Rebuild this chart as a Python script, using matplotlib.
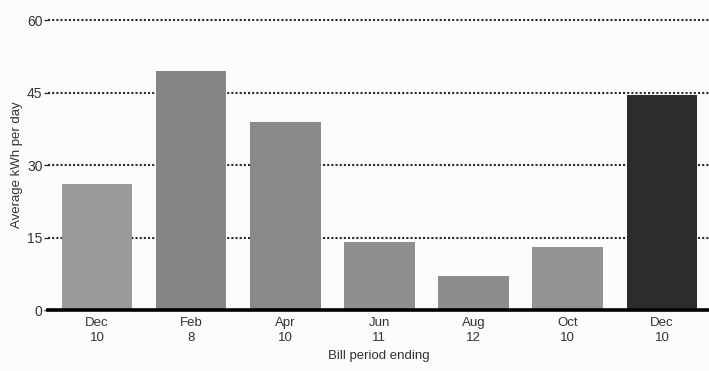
import numpy as np
import matplotlib.pyplot as plt

#%% data
months = ['Dec', 'Feb', 'Apr', 'Jun', 'Aug', 'Oct', 'Dec']
days = ['10', '8', '10', '11', '12', '10', '10']
kwh_per_day = [26, 49.5, 39, 14, 7, 13, 44.5]
bar_colors = ['#9a9a9a', '#858585', '#8a8a8a', '#8f8f8f', '#8d8d8d', '#939393', '#2c2c2c']
yticks = [0, 15, 30, 45, 60]

#%% plot
plt.rcParams['font.family'] = ['Liberation Sans', 'DejaVu Sans']
fig = plt.figure(figsize=(7.09, 3.71), dpi=100, facecolor='#fcfcfc')
ax = fig.add_axes([0.0677, 0.164, 0.9323, 0.782])
ax.set_facecolor('#fcfcfc')

x = np.arange(len(months))
ax.bar(x, kwh_per_day, width=0.75, color=bar_colors, zorder=2)

for yv in yticks[1:]:
    ax.axhline(yv, color='#2a2a2a', lw=1.5, ls=(0, (1, 1)), zorder=1, clip_on=False)
ax.axhline(0, color='black', lw=2.6, zorder=3, clip_on=False)

ax.set_xlim(-0.52, 6.5)
ax.set_ylim(0, 60)
ax.set_yticks(yticks)
ax.tick_params(axis='y', length=3, width=1, color='#333333', labelsize=10,
               labelcolor='#333333', pad=1)
ax.set_xticks(x)
ax.set_xticklabels([m + '\n' + d for m, d in zip(months, days)], fontsize=9.5,
                   color='#333333', linespacing=1.35)
ax.tick_params(axis='x', length=0, pad=5)
for s in ax.spines.values():
    s.set_visible(False)

ax.set_xlabel('Bill period ending', fontsize=9.5, color='#333333', labelpad=4)
ax.set_ylabel('Average kWh per day', fontsize=9.5, color='#333333', labelpad=3)

plt.savefig('out.png', dpi=100, facecolor=fig.get_facecolor())
